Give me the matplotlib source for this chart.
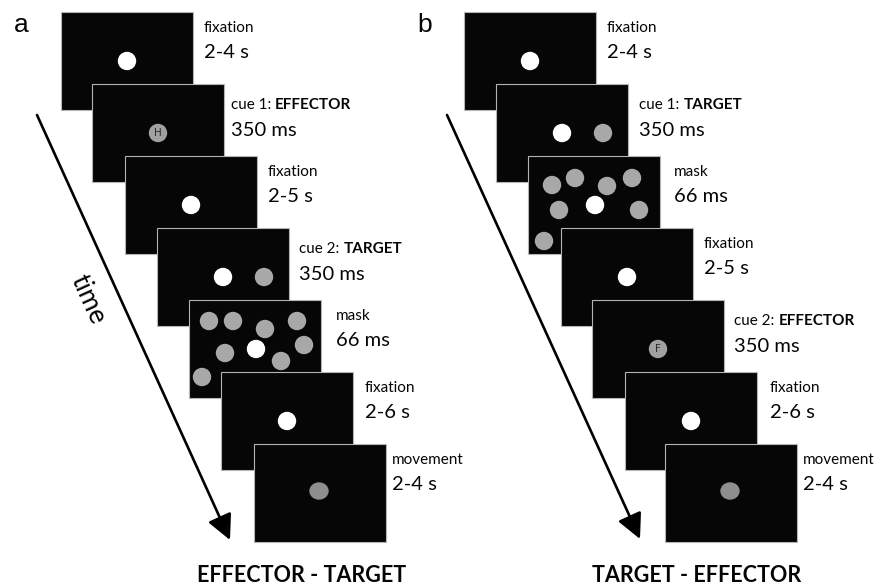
import matplotlib
matplotlib.use("Agg")
import matplotlib.pyplot as plt
from matplotlib.patches import Rectangle, Circle, Ellipse

# trial sequence, panel a (effector first) and panel b (target first)
labels_a = ["fixation", "cue 1: ", "fixation", "cue 2: ", "mask", "fixation", "movement"]
bold_a = ["", "EFFECTOR", "", "TARGET", "", "", ""]
durations_a = ["2-4 s", "350 ms", "2-5 s", "350 ms", "66 ms", "2-6 s", "2-4 s"]
stimuli_a = ["fix", "H", "fix", "target", "mask", "fix", "move"]

labels_b = ["fixation", "cue 1: ", "mask", "fixation", "cue 2: ", "fixation", "movement"]
bold_b = ["", "TARGET", "", "", "EFFECTOR", "", ""]
durations_b = ["2-4 s", "350 ms", "66 ms", "2-5 s", "350 ms", "2-6 s", "2-4 s"]
stimuli_b = ["fix", "target", "mask", "fix", "F", "fix", "move"]

titles = ["EFFECTOR - TARGET", "TARGET - EFFECTOR"]
panel_letters = ["a", "b"]

# layout (pixels)
W, H = 893, 587
SW, SH = 132, 98
screens_x_a = [61, 92, 125, 157, 189, 221, 254]
screens_x_b = [464, 496, 528, 561, 592, 625, 665]
screens_y = [12, 84, 156, 228, 300, 372, 444]
text_dx_a = [11, 7, 11, 10, 15, 12, 6]
text_dx_b = [11, 11, 14, 11, 10, 13, 6]
mask_dots_a = [(20, 21), (44, 21), (76, 29), (108, 21), (36, 53), (115, 45), (92, 61), (13, 77)]
mask_dots_b = [(24, 29), (47, 22), (79, 30), (104, 22), (31, 54), (111, 54), (16, 85)]
R = 8.5

FONT = "Lato"
INK = "#050505"
fig = plt.figure(figsize=(W / 100, H / 100), dpi=100)
ax = fig.add_axes([0, 0, 1, 1])
ax.set_xlim(0, W)
ax.set_ylim(H, 0)
ax.axis("off")


def draw_screen(x, y, kind, mask_dots, z):
    ax.add_patch(Rectangle((x, y), SW, SH, facecolor="#060606", edgecolor="#b4b4b4",
                           lw=0.8, zorder=z))
    cx, cy = x + 66, y + 49
    if kind == "fix":
        ax.add_patch(Circle((cx, cy), R, color="white", zorder=z + 0.1))
    elif kind in ("H", "F"):
        ax.add_patch(Circle((cx, cy), R, color="#a0a0a0", zorder=z + 0.1))
        ax.text(cx, cy + 0.5, kind, ha="center", va="center", fontsize=7.5,
                color="#2a2a2a", family="DejaVu Sans", zorder=z + 0.2)
    elif kind == "target":
        ax.add_patch(Circle((cx, cy), R, color="white", zorder=z + 0.1))
        ax.add_patch(Circle((x + 107, cy), R, color="#a8a8a8", zorder=z + 0.1))
    elif kind == "mask":
        for dx, dy in mask_dots:
            ax.add_patch(Circle((x + dx, y + dy), R, color="#a8a8a8", zorder=z + 0.1))
        ax.add_patch(Circle((x + 67, y + 49), R, color="white", zorder=z + 0.1))
    elif kind == "move":
        ax.add_patch(Ellipse((cx - 1, cy - 2), 18, 16, color="#8e8e8e", zorder=z + 0.1))


def draw_panel(xs, text_dx, labels, bolds, durations, stimuli, mask_dots):
    for i in range(len(labels)):
        x, y = xs[i], screens_y[i]
        draw_screen(x, y, stimuli[i], mask_dots, 2 + i)
        tx = x + SW + text_dx[i]
        cue = labels[i].startswith("cue")
        ly = y + (21 if cue else 16)
        dy = y + (47 if cue else 40)
        t = ax.text(tx, ly, labels[i], ha="left", va="center", fontsize=11,
                    family=FONT, color=INK)
        if bolds[i]:
            ax.annotate(bolds[i], xy=(1, 0), xycoords=t, ha="left", va="bottom",
                        fontsize=11, family=FONT, fontweight="bold", color=INK)
        ax.text(tx, dy, durations[i], ha="left", va="center", fontsize=14.5,
                family=FONT, color=INK)


draw_panel(screens_x_a, text_dx_a, labels_a, bold_a, durations_a, stimuli_a, mask_dots_a)
draw_panel(screens_x_b, text_dx_b, labels_b, bold_b, durations_b, stimuli_b, mask_dots_b)

# time arrows
for (x0, y0, x1, y1) in [(37, 115, 230, 540), (447, 115, 640, 539)]:
    ax.annotate("", xy=(x1, y1), xytext=(x0, y0),
                arrowprops=dict(arrowstyle="-|>,head_length=0.9,head_width=0.45",
                                lw=1.9, color="black", mutation_scale=17,
                                shrinkA=0, shrinkB=0))

ax.text(88, 299, "time", rotation=-65.6, ha="center", va="center", fontsize=19,
        family=FONT, color=INK, rotation_mode="anchor")

# panel letters and titles
ax.text(21, 25, panel_letters[0], ha="center", va="center", fontsize=19,
        family="Liberation Sans", color=INK)
ax.text(425, 25, panel_letters[1], ha="center", va="center", fontsize=19,
        family="Liberation Sans", color=INK)
ax.text(302, 576, titles[0], ha="center", va="center", fontsize=15.5,
        family=FONT, fontweight="bold", color=INK)
ax.text(697, 576, titles[1], ha="center", va="center", fontsize=15.5,
        family=FONT, fontweight="bold", color=INK)

fig.savefig("out.png", dpi=100, facecolor="white")
